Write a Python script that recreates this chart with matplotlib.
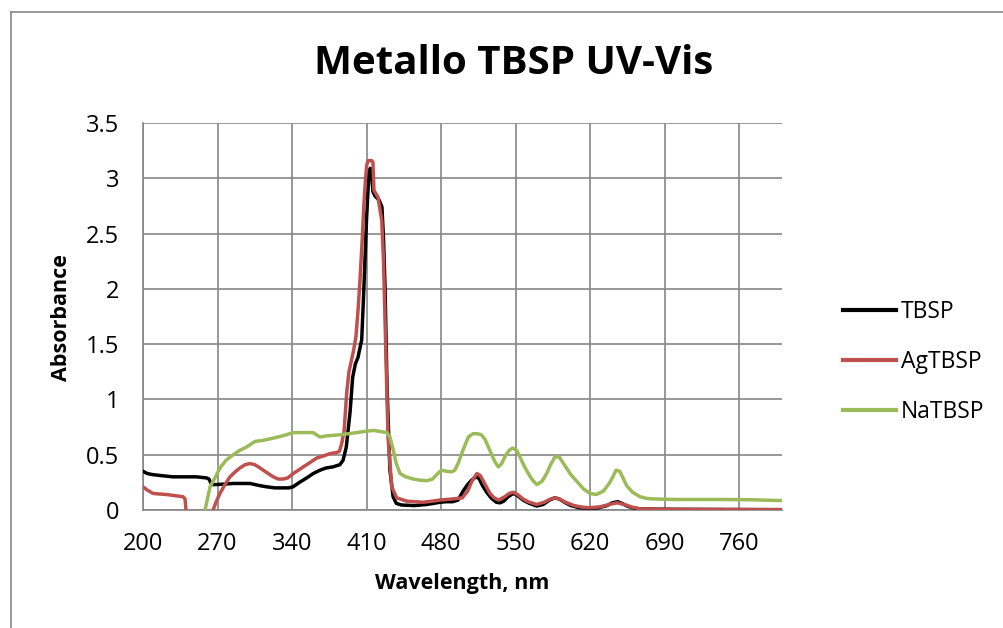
import matplotlib
matplotlib.use("Agg")
import matplotlib.pyplot as plt
from matplotlib.lines import Line2D

plt.rcParams['font.family'] = ['Open Sans', 'DejaVu Sans']

# --- spectra (wavelength in nm, absorbance) ---
tbsp_nm = [200, 204, 209, 218, 228, 240, 250, 259.8, 262, 264.5, 269, 285, 300.5, 310, 316,
           324, 331.5, 337, 341, 347, 353.8, 360, 366.3, 372, 378.5, 385, 388, 391,
           394.5, 397, 399.5, 402, 405.5, 407.6, 410, 412.3, 413.5, 414.5, 416, 418, 422,
           424.5, 426, 427.4, 429.3, 432, 435, 438, 443, 455, 466.6, 473, 479, 485, 491,
           496, 500.7, 505, 508.8, 511.5, 513.8, 516, 519, 523, 527, 532, 535.5, 539,
           543, 548, 552, 557, 563, 570, 576, 582, 587, 591, 596, 602, 610, 620, 628,
           636, 641, 646, 650, 655, 660, 667, 680, 700, 730, 760, 800]
tbsp_abs = [0.35, 0.33, 0.32, 0.31, 0.30, 0.30, 0.30, 0.29, 0.28, 0.23, 0.23, 0.24, 0.24, 0.22, 0.21,
            0.20, 0.20, 0.20, 0.21, 0.25, 0.29, 0.33, 0.36, 0.38, 0.39, 0.41, 0.45, 0.57,
            0.88, 1.20, 1.32, 1.38, 1.54, 2.02, 2.62, 3.06, 3.09, 3.08, 2.88, 2.84, 2.80,
            2.74, 2.45, 2.02, 1.11, 0.36, 0.12, 0.06, 0.045, 0.04, 0.05, 0.06, 0.07, 0.075, 0.075,
            0.09, 0.17, 0.23, 0.27, 0.29, 0.30, 0.28, 0.22, 0.16, 0.11, 0.07, 0.065, 0.08,
            0.12, 0.15, 0.13, 0.09, 0.06, 0.036, 0.05, 0.09, 0.11, 0.10, 0.07, 0.04, 0.02, 0.015, 0.02,
            0.04, 0.065, 0.075, 0.06, 0.035, 0.02, 0.01, 0.008, 0.006, 0.005, 0.004, 0.003]

ag_nm = [200, 204, 209.4, 215, 222, 230, 237.6, 239.5, 240.4, 241,
         263, 265.8, 269, 272.3, 277, 281.7, 286, 291, 296, 300.5, 305, 310, 316, 322.4,
         327, 331.8, 336, 341.2, 346, 350.6, 357, 363.2, 370, 375.7, 382, 384.5, 386.7, 389,
         391.4, 393.5, 396, 398, 400.1, 402, 403.9, 406, 407.6, 409, 410.2, 411.5, 413.3, 415,
         416.1, 417, 420.8, 424.3, 426, 427.4, 430.2, 433.7, 438.4, 447.8, 463, 472, 479,
         491, 500, 505, 509, 513.8, 517, 521, 526, 530, 534, 540, 544, 548, 552, 557, 563,
         570, 577, 583, 587, 591, 597, 605, 613, 620, 630, 638, 645.5, 652, 660, 667, 690, 730,
         770, 800]
ag_abs = [0.21, 0.18, 0.15, 0.145, 0.14, 0.13, 0.12, 0.10, 0.0, -0.2,
          -0.2, 0.0, 0.08, 0.15, 0.23, 0.30, 0.34, 0.38, 0.41, 0.42, 0.41, 0.38, 0.34, 0.30,
          0.28, 0.28, 0.29, 0.33, 0.36, 0.39, 0.43, 0.47, 0.49, 0.51, 0.52, 0.53, 0.60, 0.72,
          1.06, 1.25, 1.36, 1.45, 1.57, 1.80, 2.08, 2.45, 2.77, 2.98, 3.12, 3.16, 3.16, 3.16,
          3.14, 2.89, 2.83, 2.62, 2.25, 1.72, 0.66, 0.21, 0.11, 0.08, 0.07, 0.08, 0.09,
          0.10, 0.11, 0.17, 0.26, 0.33, 0.31, 0.24, 0.15, 0.11, 0.09, 0.12, 0.15, 0.16, 0.14, 0.10, 0.07,
          0.05, 0.07, 0.10, 0.11, 0.10, 0.07, 0.04, 0.025, 0.02, 0.03, 0.05, 0.065, 0.05, 0.025, 0.01, 0.007, 0.005,
          0.004, 0.003]

na_nm = [255, 258.3, 263, 267.6, 272.3, 278, 284.8, 291, 297.4, 305.2, 313, 322.4, 331,
         341.2, 350, 360, 363, 366.3, 372, 385, 393, 400.8, 408, 416.4, 423, 429, 432,
         435.2, 438, 441.5, 447, 454, 460, 466.6, 472, 477, 480.6, 485, 490, 493, 496,
         501, 505.7, 510, 514, 518, 521.3, 524.5, 527.6, 531, 533.9, 537, 540, 544, 547.3,
         551, 554.2, 558, 562, 566, 570, 575, 579.3, 583, 587, 591, 596.5, 602, 607.5, 614,
         620, 626, 632.5, 638, 641.5, 644.4, 648, 651, 654.5, 660, 667, 673, 679.5, 700,
         740, 770, 800]
na_abs = [-0.1, 0.0, 0.21, 0.29, 0.38, 0.45, 0.50, 0.54, 0.57, 0.62, 0.63, 0.65, 0.67,
          0.70, 0.70, 0.70, 0.68, 0.66, 0.67, 0.68, 0.69, 0.70, 0.71, 0.72, 0.71, 0.70, 0.66,
          0.54, 0.42, 0.33, 0.30, 0.28, 0.27, 0.265, 0.28, 0.33, 0.36, 0.35, 0.345, 0.36, 0.42,
          0.55, 0.66, 0.69, 0.69, 0.68, 0.64, 0.57, 0.50, 0.43, 0.39, 0.42, 0.48, 0.54, 0.56,
          0.54, 0.48, 0.40, 0.33, 0.27, 0.23, 0.26, 0.33, 0.41, 0.48, 0.48, 0.40, 0.32, 0.26, 0.19,
          0.15, 0.14, 0.17, 0.24, 0.30, 0.36, 0.35, 0.29, 0.22, 0.16, 0.12, 0.105, 0.10, 0.095,
          0.095, 0.093, 0.085]

series = [("TBSP", tbsp_nm, tbsp_abs, "#000000"),
          ("AgTBSP", ag_nm, ag_abs, "#C0504D"),
          ("NaTBSP", na_nm, na_abs, "#9BBB59")]

x_ticks = [200, 270, 340, 410, 480, 550, 620, 690, 760]
y_ticks = [0, 0.5, 1, 1.5, 2, 2.5, 3, 3.5]
y_tick_labels = ["0", "0.5", "1", "1.5", "2", "2.5", "3", "3.5"]

W, H = 1004, 628
fig = plt.figure(figsize=(W / 100, H / 100), dpi=100)
fig.patch.set_facecolor("white")

grid_c = "#868686"

# chart frame
fig.add_artist(Line2D([11 / W, 11 / W], [0, 1 - 12 / H], color=grid_c, lw=1.2))
fig.add_artist(Line2D([11 / W, 1], [1 - 12 / H, 1 - 12 / H], color=grid_c, lw=1.2))

ax = fig.add_axes([143 / W, 1 - 510 / H, (782 - 143) / W, (510 - 123) / H])
ax.set_xlim(200, 800.4)
ax.set_ylim(0, 3.5)

for name, xs, ys, c in series:
    ax.plot(xs, ys, color=c, lw=2.5, label=name, solid_joinstyle="round",
            solid_capstyle="round", zorder=3)

ax.set_xticks(x_ticks)
ax.set_yticks(y_ticks)
ax.set_yticklabels(y_tick_labels)
ax.grid(True, color=grid_c, lw=1.2, zorder=0)
ax.set_axisbelow(True)
ax.tick_params(length=0, labelsize=17)
ax.tick_params(axis="y", pad=17)
ax.tick_params(axis="x", pad=16)
for s in ("top", "right"):
    ax.spines[s].set_visible(False)
for s in ("left", "bottom"):
    ax.spines[s].set_color(grid_c)
    ax.spines[s].set_linewidth(1.2)

fig.text(514 / W, 1 - 64 / H, "Metallo TBSP UV-Vis", ha="center", va="center",
         fontsize=29, fontweight="bold")
fig.text(462 / W, 1 - 584 / H, "Wavelength, nm", ha="center", va="center",
         fontsize=15.5, fontweight="bold")
fig.text(62 / W, 1 - 318 / H, "Absorbance", ha="center", va="center",
         fontsize=15.5, fontweight="bold", rotation=90)

handles = [Line2D([], [], color=c, lw=3) for _, _, _, c in series]
labels = [n for n, _, _, _ in series]
fig.legend(handles, labels, loc="center left", bbox_to_anchor=(843 / W, 1 - 362 / H),
           frameon=False, fontsize=16.5, handlelength=2.3, handletextpad=0.22,
           labelspacing=1.15, borderaxespad=0, borderpad=0)

fig.savefig("out.png", dpi=100)
